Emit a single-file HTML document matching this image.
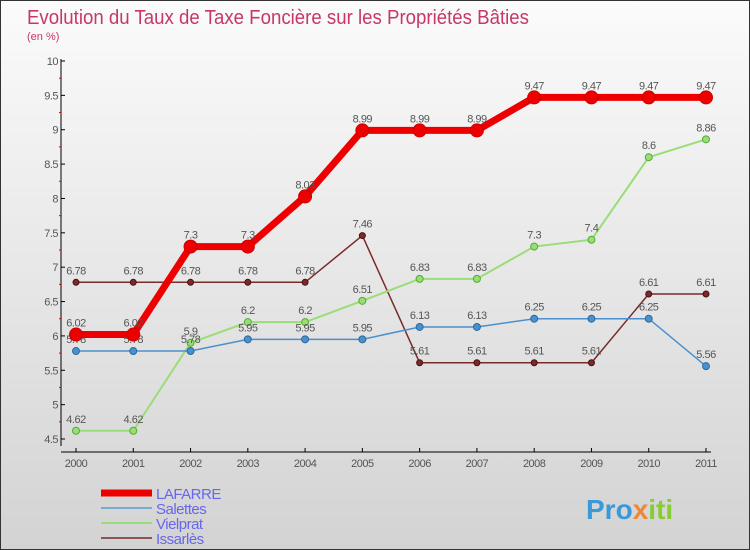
<!DOCTYPE html>
<html><head><meta charset="utf-8"><style>
body{margin:0}
#c{width:750px;height:550px;position:relative;overflow:hidden;box-sizing:border-box;border:1px solid #333;background:linear-gradient(#fbfbfb,#d3d3d3);font-family:"Liberation Sans","DejaVu Sans",sans-serif}
</style></head><body>
<div id="c">
<svg id="s" width="750" height="550">
<text x="26" y="23" font-size="20" fill="#c8366a" textLength="502" lengthAdjust="spacingAndGlyphs">Evolution du Taux de Taxe Foncière sur les Propriétés Bâties</text>
<text x="26" y="39" font-size="11" fill="#c8366a">(en %)</text>
<text x="585" y="518" font-size="28" font-weight="bold" fill="#3a9ad9">Pro<tspan fill="#e83">x</tspan><tspan fill="#8c3">iti</tspan></text>
</svg>
</div>
<script>
const years=[2000,2001,2002,2003,2004,2005,2006,2007,2008,2009,2010,2011];
const yTicks=[4.5,5,5.5,6,6.5,7,7.5,8,8.5,9,9.5,10];
const lafarre=[6.02,6.02,7.3,7.3,8.03,8.99,8.99,8.99,9.47,9.47,9.47,9.47];
const salettes=[5.78,5.78,5.78,5.95,5.95,5.95,6.13,6.13,6.25,6.25,6.25,5.56];
const vielprat=[4.62,4.62,5.9,6.2,6.2,6.51,6.83,6.83,7.3,7.4,8.6,8.86];
const issarles=[6.78,6.78,6.78,6.78,6.78,7.46,5.61,5.61,5.61,5.61,6.61,6.61];
const NS='http://www.w3.org/2000/svg',svg=document.getElementById('s');
const X=i=>75+i*(630/11), Y=v=>60+(10-v)*(378/5.5);
function el(t,a,p){const e=document.createElementNS(NS,t);for(const k in a)e.setAttribute(k,a[k]);(p||svg).appendChild(e);return e;}
let e=el('line',{x1:60,y1:58,x2:60,y2:445,stroke:'#000'});

e=el('line',{x1:60,y1:451,x2:710,y2:451,stroke:'#000'});

yTicks.forEach(v=>{el('line',{x1:60,y1:Y(v),x2:64,y2:Y(v),stroke:'#000'});
 if(v<10)el('line',{x1:58,y1:Y(v+0.25),x2:60,y2:Y(v+0.25),stroke:'#d00'});
 const t=el('text',{x:57,y:Y(v)+4,'font-size':11,fill:'#555','text-anchor':'end','letter-spacing':'-0.5'});t.textContent=String(v);
 });
years.forEach((y,i)=>{el('line',{x1:X(i),y1:447,x2:X(i),y2:451,stroke:'#000'});
 const t=el('text',{x:X(i),y:466,'font-size':11,fill:'#555','text-anchor':'middle','letter-spacing':'-0.5'});t.textContent=y;
 });
function series(d,col,dot,w,r,name){const g=el('g',{});
 
 el('polyline',{points:d.map((v,i)=>X(i)+','+Y(v)).join(' '),fill:'none',stroke:col,'stroke-width':w},g);
 d.forEach((v,i)=>{const c=el('circle',{cx:X(i),cy:Y(v),r:r,fill:col,stroke:dot,'stroke-width':1},g);
  
  const t=el('text',{x:X(i),y:Y(v)-8,'font-size':11,fill:'#555','text-anchor':'middle','letter-spacing':'-0.5'},g);t.textContent=String(v);
  });}
series(issarles,'#7a2a2a','#4a1010',1.5,3,'issarles');
series(vielprat,'#99dd77','#55aa33',2,3.5,'vielprat');
series(salettes,'#4a90cc','#2a6aa0',1.5,3.5,'salettes');
series(lafarre,'#ee0000','#cc0000',7,6.5,'lafarre');
const leg=[['LAFARRE','#ee0000',7],['Salettes','#7aaad0',2],['Vielprat','#99dd77',2],['Issarlès','#8a5555',2]];
leg.forEach((l,i)=>{const y=492+i*15;const g=el('g',{});
 
 el('line',{x1:100,y1:y,x2:151,y2:y,stroke:l[1],'stroke-width':l[2]},g);
 const t=el('text',{x:155,y:y+6,'font-size':15,fill:'#6666ee','letter-spacing':'-0.5'},g);t.textContent=l[0];});
</script>
</body></html>
